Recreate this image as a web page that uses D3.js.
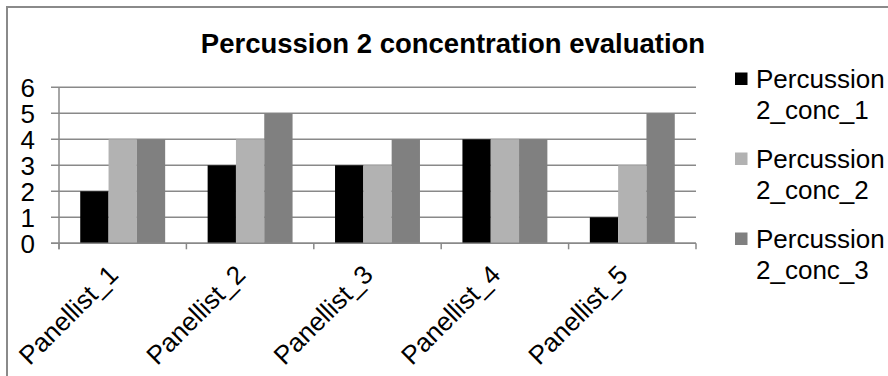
<!DOCTYPE html>
<html>
<head>
<meta charset="utf-8">
<script src="https://cdn.jsdelivr.net/npm/d3@7"></script>
<style>
  html, body { margin: 0; padding: 0; background: #fff; }
  svg { display: block; }
  text { font-family: "Liberation Sans", Arial, sans-serif; fill: #000; }
</style>
</head>
<body>
<svg id="chart" width="888" height="376"></svg>
<script>
// Panellist scores per concentration level
const categories = ["Panellist_1", "Panellist_2", "Panellist_3", "Panellist_4", "Panellist_5"];
const seriesNames = ["Percussion 2_conc_1", "Percussion 2_conc_2", "Percussion 2_conc_3"];
const conc1 = [2, 3, 3, 4, 1];
const conc2 = [4, 4, 3, 4, 3];
const conc3 = [4, 5, 4, 4, 5];
const yTicks = [0, 1, 2, 3, 4, 5, 6];
const colors = ["#000000", "#b2b2b2", "#808080"];

const seriesValues = [conc1, conc2, conc3];
const svg = d3.select("#chart");

// Chart frame (top and left edges visible)
svg.append("path")
  .attr("d", "M7,376 L7,7 L888,7")
  .attr("fill", "none")
  .attr("stroke", "#8a8a8a")
  .attr("stroke-width", 2);

const plot = { left: 59, right: 696, top: 87.3, bottom: 243.3 };

const y = d3.scaleLinear().domain([0, 6]).range([plot.bottom, plot.top]);
const x0 = d3.scaleBand().domain(categories).range([plot.left, plot.right]).padding(0);
const x1 = d3.scaleBand().domain(d3.range(seriesNames.length))
  .range([0, x0.bandwidth()]).paddingInner(0).paddingOuter(0.75);

// Title
svg.append("text")
  .attr("x", 453).attr("y", 53)
  .attr("text-anchor", "middle")
  .style("font-weight", "bold")
  .style("font-size", "27.5px")
  .text("Percussion 2 concentration evaluation");

// Horizontal gridlines, extending left as tick marks
svg.append("g")
  .selectAll("line")
  .data(yTicks)
  .join("line")
  .attr("x1", plot.left - 8).attr("x2", plot.right)
  .attr("y1", d => y(d)).attr("y2", d => y(d))
  .attr("stroke", "#898989")
  .attr("stroke-width", 1.5);

// Vertical axis line
svg.append("line")
  .attr("x1", plot.left).attr("x2", plot.left)
  .attr("y1", y(6)).attr("y2", y(0) + 6)
  .attr("stroke", "#898989").attr("stroke-width", 1.5);

// Y tick labels
svg.append("g")
  .selectAll("text")
  .data(yTicks)
  .join("text")
  .attr("x", 35).attr("y", d => y(d))
  .attr("dy", "0.36em")
  .attr("text-anchor", "end")
  .style("font-size", "26px")
  .text(d => d);

// Bars
const groups = svg.append("g")
  .selectAll("g")
  .data(categories)
  .join("g")
  .attr("transform", d => `translate(${x0(d)},0)`);

groups.selectAll("rect")
  .data((d, i) => seriesValues.map((vals, s) => ({ s, v: vals[i] })))
  .join("rect")
  .attr("x", d => x1(d.s))
  .attr("width", x1.bandwidth())
  .attr("y", d => y(d.v))
  .attr("height", d => y(0) - y(d.v))
  .attr("fill", d => colors[d.s]);

// Baseline and category tick marks
svg.append("line")
  .attr("x1", plot.left - 8).attr("x2", plot.right)
  .attr("y1", y(0)).attr("y2", y(0))
  .attr("stroke", "#898989").attr("stroke-width", 1.5);

const boundaries = categories.map(c => x0(c)).concat([plot.right]);
svg.append("g")
  .selectAll("line")
  .data(boundaries)
  .join("line")
  .attr("x1", d => d).attr("x2", d => d)
  .attr("y1", y(0)).attr("y2", y(0) + 6)
  .attr("stroke", "#898989").attr("stroke-width", 1.5);

// Rotated category labels
svg.append("g")
  .selectAll("text")
  .data(categories)
  .join("text")
  .attr("text-anchor", "end")
  .attr("transform", d => `translate(${x0(d) + x0.bandwidth() / 2 - 3},${y(0) + 33}) rotate(-45)`)
  .style("font-size", "26px")
  .text(d => d);

// Legend
const legend = svg.append("g")
  .selectAll("g")
  .data(seriesNames)
  .join("g")
  .attr("transform", (d, i) => `translate(735,${88 + i * 80})`);

legend.append("rect")
  .attr("x", 0).attr("y", -15.5)
  .attr("width", 12.5).attr("height", 12.5)
  .attr("fill", (d, i) => colors[i]);

legend.append("text")
  .attr("x", 21).attr("y", 0)
  .style("font-size", "26px")
  .selectAll("tspan")
  .data(d => d.split(" "))
  .join("tspan")
  .attr("x", 21)
  .attr("dy", (d, i) => i === 0 ? 0 : 31)
  .text(d => d);
</script>
</body>
</html>
